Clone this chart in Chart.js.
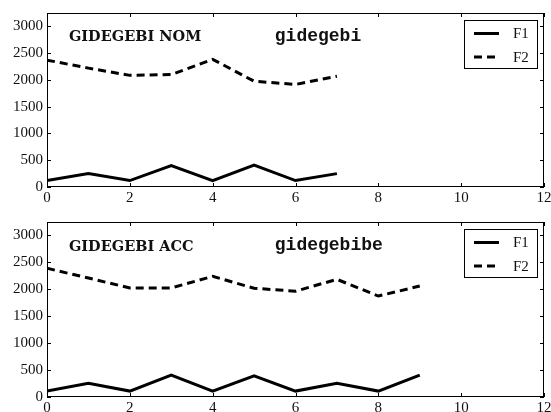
<!DOCTYPE html>
<html>
<head>
<meta charset="utf-8">
<script src="https://cdn.jsdelivr.net/npm/chart.js@4"></script>
<style>
  html, body { margin: 0; padding: 0; background: #fff; }
  .box { position: relative; width: 551px; height: 206px; }
</style>
</head>
<body>
<div class="box"><canvas id="topChart"></canvas></div>
<div class="box"><canvas id="bottomChart"></canvas></div>
<script>
// data
var xTop = [0, 1, 2, 3, 4, 5, 6, 7];
var topF1 = [120, 250, 120, 400, 120, 410, 120, 250];
var topF2 = [2370, 2220, 2085, 2100, 2385, 1975, 1915, 2070];

var xBottom = [0, 1, 2, 3, 4, 5, 6, 7, 8, 9];
var bottomF1 = [110, 255, 110, 405, 110, 395, 110, 255, 110, 405];
var bottomF2 = [2390, 2210, 2025, 2025, 2240, 2020, 1965, 2185, 1875, 2060];

var seriesNames = ['F1', 'F2'];
var xTicks = [0, 2, 4, 6, 8, 10, 12];
var yTicks = [0, 500, 1000, 1500, 2000, 2500, 3000];

var serif = '"Liberation Serif", serif';

function pairs(xs, ys) {
    return ys.map(function (v, i) { return { x: xs[i], y: v }; });
}

// frame, inward ticks, labels and legend, matplotlib style
var framePlugin = {
    id: 'frame',
    afterDraw: function (chart) {
        var ctx = chart.ctx;
        var a = chart.chartArea;
        var xs = chart.scales.x, ys = chart.scales.y;
        var o = chart.options.plugins.frame;
        ctx.save();
        ctx.strokeStyle = '#000';
        ctx.lineWidth = 1;
        ctx.setLineDash([]);
        ctx.strokeRect(a.left + 0.5, a.top + 0.5, a.right - a.left - 1, a.bottom - a.top - 1);
        ctx.beginPath();
        xTicks.forEach(function (t) {
            var px = Math.round(xs.getPixelForValue(t)) + 0.5;
            ctx.moveTo(px, a.bottom); ctx.lineTo(px, a.bottom - 4);
            ctx.moveTo(px, a.top); ctx.lineTo(px, a.top + 4);
        });
        yTicks.forEach(function (t) {
            var py = Math.round(ys.getPixelForValue(t)) + 0.5;
            ctx.moveTo(a.left, py); ctx.lineTo(a.left + 4, py);
            ctx.moveTo(a.right, py); ctx.lineTo(a.right - 4, py);
        });
        ctx.stroke();

        // annotations
        ctx.fillStyle = '#111';
        ctx.textBaseline = 'middle';
        ctx.textAlign = 'left';
        ctx.font = 'bold 14.5px "DejaVu Serif", serif';
        ctx.fillText(o.label, xs.getPixelForValue(0.53), ys.getPixelForValue(2790));
        ctx.font = 'bold 18px "Liberation Mono", monospace';
        ctx.fillText(o.code, xs.getPixelForValue(5.5), ys.getPixelForValue(2820));

        // legend
        var bw = 73, bh = 48;
        var bx = a.right - 7 - bw, by = a.top + 7;
        ctx.lineWidth = 1;
        ctx.strokeRect(bx + 0.5, by + 0.5, bw, bh);
        ctx.font = '15px ' + serif;
        chart.data.datasets.forEach(function (ds, i) {
            var ly = by + 13.5 + i * 23.5;
            ctx.beginPath();
            ctx.lineWidth = 3;
            ctx.setLineDash(ds.borderDash || []);
            ctx.moveTo(bx + 10, ly); ctx.lineTo(bx + 35, ly);
            ctx.stroke();
            ctx.fillText(ds.label, bx + 49, ly + 1);
        });
        ctx.restore();
    }
};

function makeChart(id, xs, f1, f2, padTop, axisH, label, code) {
    var ctx = document.getElementById(id).getContext('2d');
    return new Chart(ctx, {
        type: 'line',
        data: {
            datasets: [{
                label: seriesNames[0],
                data: pairs(xs, f1),
                borderColor: '#000',
                borderWidth: 3,
                pointRadius: 0,
                tension: 0
            }, {
                label: seriesNames[1],
                data: pairs(xs, f2),
                borderColor: '#000',
                borderWidth: 3,
                borderDash: [8, 5],
                pointRadius: 0,
                tension: 0
            }]
        },
        options: {
            responsive: false,
            animation: false,
            layout: { padding: { top: padTop, right: 7, left: 0, bottom: 0 } },
            plugins: {
                legend: { display: false },
                tooltip: { enabled: false },
                frame: { label: label, code: code }
            },
            scales: {
                x: {
                    type: 'linear',
                    min: 0,
                    max: 12,
                    grid: { display: false, drawTicks: false },
                    border: { display: false },
                    afterBuildTicks: function (s) { s.ticks = xTicks.map(function (v) { return { value: v }; }); },
                    afterFit: function (s) { s.height = axisH; s.paddingLeft = 0; s.paddingRight = 0; },
                    ticks: { color: '#111', padding: 2, maxRotation: 0, font: { family: serif, size: 15 },
                        callback: function (v) { return String(v); } }
                },
                y: {
                    min: 0,
                    max: 3250,
                    grid: { display: false, drawTicks: false },
                    border: { display: false },
                    afterBuildTicks: function (s) { s.ticks = yTicks.map(function (v) { return { value: v }; }); },
                    afterFit: function (s) { s.width = 47; },
                    ticks: { color: '#111', padding: 4, font: { family: serif, size: 15 },
                        callback: function (v) { return String(v); } }
                }
            }
        },
        plugins: [framePlugin]
    });
}

document.getElementById('topChart').width = 551;
document.getElementById('topChart').height = 206;
document.getElementById('bottomChart').width = 551;
document.getElementById('bottomChart').height = 206;

makeChart('topChart', xTop, topF1, topF2, 13, 19, 'GIDEGEBI NOM', 'gidegebi');
makeChart('bottomChart', xBottom, bottomF1, bottomF2, 16, 15, 'GIDEGEBI ACC', 'gidegebibe');
</script>
</body>
</html>
